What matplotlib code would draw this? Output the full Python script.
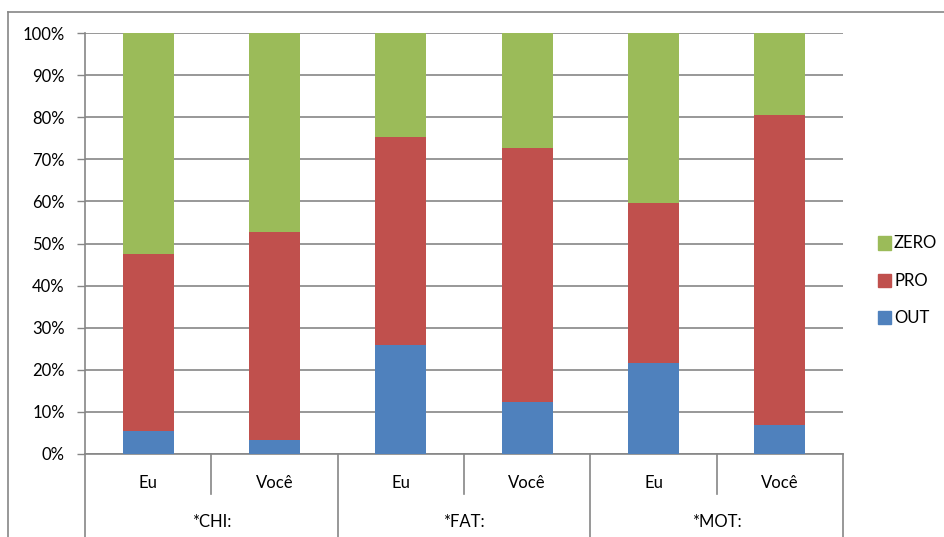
import matplotlib
matplotlib.use("Agg")
import matplotlib.pyplot as plt
from matplotlib.transforms import blended_transform_factory
from matplotlib.patches import Rectangle
from matplotlib.lines import Line2D

# ---- data (percent of each speaker/pronoun column) ----
groups = ["*CHI:", "*FAT:", "*MOT:"]
subcats = ["Eu", "Você"]
out_vals = [5.5, 3.3, 26.0, 12.3, 21.5, 7.0]
pro_vals = [42.1, 49.4, 49.4, 60.3, 38.2, 73.6]
zero_vals = [52.4, 47.3, 24.6, 27.4, 40.3, 19.4]
yticks = [0, 10, 20, 30, 40, 50, 60, 70, 80, 90, 100]

C_OUT = "#4F81BD"
C_PRO = "#C0504D"
C_ZERO = "#9BBB59"
GRID = "#868686"

plt.rcParams["font.family"] = ["Lato", "DejaVu Sans"]

W, H = 944, 537
fig = plt.figure(figsize=(W / 100, H / 100), dpi=100)


def fy(py):
    return 1 - py / H


ax = fig.add_axes([85 / W, fy(454), (843 - 85) / W, (454 - 33) / H])

x = list(range(len(out_vals)))
bw = 0.405
base2 = [o + p for o, p in zip(out_vals, pro_vals)]
ax.bar(x, out_vals, width=bw, color=C_OUT, zorder=3)
ax.bar(x, pro_vals, width=bw, bottom=out_vals, color=C_PRO, zorder=3)
ax.bar(x, zero_vals, width=bw, bottom=base2, color=C_ZERO, zorder=3)

ax.set_xlim(-0.5, len(x) - 0.5)
ax.set_ylim(0, 100)
ax.set_yticks(yticks)
ax.set_yticklabels([f"{v}%" for v in yticks], fontsize=12, color="#000000")
ax.set_xticks([])
ax.yaxis.grid(True, color=GRID, linewidth=1.2)
ax.set_axisbelow(True)
ax.tick_params(axis="y", length=6, width=1, color=GRID, pad=8.5)
for s in ("top", "right"):
    ax.spines[s].set_visible(False)
for s in ("left", "bottom"):
    ax.spines[s].set_color(GRID)
    ax.spines[s].set_linewidth(1.2)

# multi-level category axis below the plot
tr = blended_transform_factory(ax.transData, fig.transFigure)
for i, lab in enumerate(subcats * len(groups)):
    ax.text(i, fy(483), lab, transform=tr, ha="center", va="center", fontsize=12)
for g, lab in enumerate(groups):
    ax.text(2 * g + 0.5, fy(522), lab, transform=tr, ha="center", va="center", fontsize=12)
for g in range(len(groups)):
    ax.add_line(Line2D([2 * g + 0.5] * 2, [fy(454), fy(494)], transform=tr,
                       color=GRID, lw=1.2, clip_on=False))
for g in range(len(groups) + 1):
    ax.add_line(Line2D([2 * g - 0.5] * 2, [fy(454), 0], transform=tr,
                       color=GRID, lw=1.2, clip_on=False))

# chart frame
fig.add_artist(Line2D([8 / W, 8 / W], [fy(12), 0], color=GRID, lw=1.2))
fig.add_artist(Line2D([8 / W, 1], [fy(12), fy(12)], color=GRID, lw=1.2))

# legend
for lab, col, cy in [("ZERO", C_ZERO, 243.5), ("PRO", C_PRO, 280.5), ("OUT", C_OUT, 318)]:
    fig.add_artist(Rectangle((878 / W, fy(cy + 6)), 13 / W, 13 / H,
                             transform=fig.transFigure, color=col))
    fig.text(894 / W, fy(cy), lab, ha="left", va="center", fontsize=12)

fig.savefig("out.png", dpi=100, facecolor="white")
